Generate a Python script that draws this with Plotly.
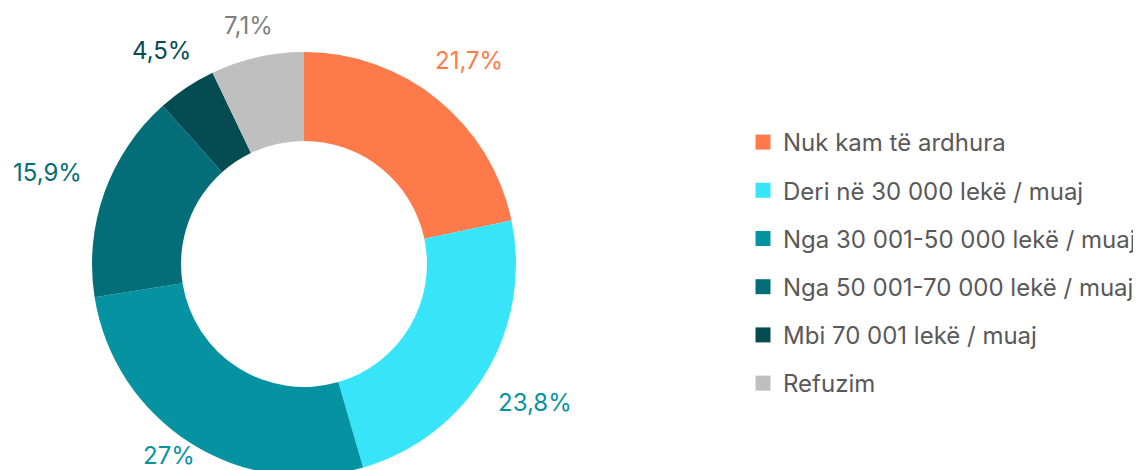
import math
import plotly.graph_objects as go

categories = [
    "Nuk kam të ardhura",
    "Deri në 30 000 lekë / muaj",
    "Nga 30 001-50 000 lekë / muaj",
    "Nga 50 001-70 000 lekë / muaj",
    "Mbi 70 001 lekë / muaj",
    "Refuzim",
]
values = [21.7, 23.8, 27.0, 15.9, 4.5, 7.1]
slice_colors = ["#FF7A4A", "#38E5F8", "#0593A2", "#046E78", "#054B52", "#BFBFBF"]
label_colors = ["#FF7A4A", "#0593A2", "#0593A2", "#046E78", "#054B52", "#7F7F7F"]

labels_txt = [f"{v:g}".replace(".", ",") + "%" for v in values]

W, H = 1141, 470
FONT = "Inter, Liberation Sans, Arial, sans-serif"
FS = 24

# ring geometry in figure pixels
CX, CY, R = 296, 256, 212
HOLE = 0.58

fig = go.Figure()
fig.add_trace(go.Pie(
    labels=categories,
    values=values,
    textinfo="none",
    marker=dict(colors=slice_colors, line=dict(width=0)),
    hole=HOLE,
    sort=False,
    direction="clockwise",
    rotation=0,
    showlegend=False,
    hoverinfo="label+percent",
    domain=dict(x=[(CX - R) / W, (CX + R) / W], y=[1 - (CY + R) / H, 1 - (CY - R) / H]),
))

# outside percentage labels, placed along each slice's mid-angle
total = sum(values)
cum = 0.0
GAP = 26
for v, txt, col in zip(values, labels_txt, label_colors):
    mid = (cum + v / 2) / total * 2 * math.pi
    cum += v
    s, c = math.sin(mid), math.cos(mid)
    hw, hh = len(txt) * 7.2, 11
    ext = math.hypot(hw * s, hh * c)
    d = R + GAP + ext
    px = CX + d * s
    py = CY - d * c
    py = max(min(py, H - 8 - 15), 17)
    fig.add_annotation(
        x=px / W, y=1 - py / H, xref="paper", yref="paper",
        text=txt, showarrow=False, xanchor="center", yanchor="middle",
        font=dict(size=FS, color=col, family=FONT),
    )

for name, col in zip(categories, slice_colors):
    fig.add_trace(go.Scatter(
        x=[None], y=[None], mode="markers", name=name,
        legendgroup=name,
        marker=dict(symbol="square", size=15, color=col, line=dict(width=0)),
        hoverinfo="skip",
    ))

fig.update_layout(
    width=W, height=H,
    margin=dict(l=0, r=0, t=0, b=0),
    paper_bgcolor="white", plot_bgcolor="white",
    font=dict(family=FONT, size=FS, color="#595959"),
    xaxis=dict(visible=False), yaxis=dict(visible=False),
    legend=dict(
        x=735 / W, xanchor="left",
        y=1 - 255 / H, yanchor="middle",
        font=dict(size=FS, color="#595959", family=FONT),
        tracegroupgap=14,
        bgcolor="rgba(0,0,0,0)",
        borderwidth=0,
    ),
)

fig.write_html("out.html")
